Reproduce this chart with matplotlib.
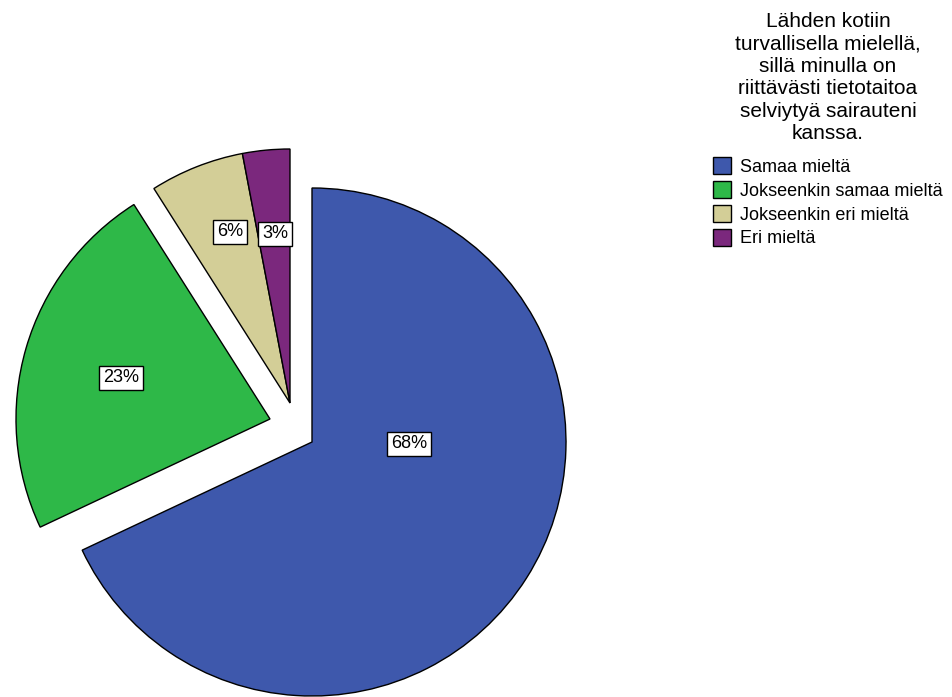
import matplotlib.pyplot as plt

# answer categories and their shares (%)
categories = ['Samaa mieltä', 'Jokseenkin samaa mieltä', 'Jokseenkin eri mieltä', 'Eri mieltä']
shares = [68, 23, 6, 3]
question = ('Lähden kotiin\nturvallisella mielellä,\nsillä minulla on\n'
            'riittävästi tietotaitoa\nselviytyä sairauteni\nkanssa.')

colors = ['#3e58ac', '#2eb848', '#d3ce97', '#7b287d']

W, H = 953, 697
plt.rcParams['font.family'] = ['Liberation Sans', 'DejaVu Sans']

fig = plt.figure(figsize=(W / 100, H / 100), dpi=100)
ax = fig.add_axes([0, 0, 1, 1])  # axes in pixel units, y upwards

cx, cy = 312, H - 442
wedges, _ = ax.pie(shares, colors=colors, startangle=90, counterclock=False,
                   radius=254, center=(cx, cy),
                   wedgeprops=dict(edgecolor='black', linewidth=1))

# pull the smaller slices out of the pie
shifts = [(0, 0), (-42, 23), (-22, 39), (-22, 39)]
for w, (dx, dy) in zip(wedges, shifts):
    w.set_center((cx + dx, cy + dy))

# percentage labels in small white boxes
label_pos = [(409, 444), (121, 378), (230, 232), (275, 234)]
for v, (x, y) in zip(shares, label_pos):
    ax.text(x, H - y, f'{v}%', ha='center', va='center', fontsize=13,
            bbox=dict(boxstyle='square,pad=0.2', fc='white', ec='black', lw=1))

# legend title (the survey statement) above the colour keys
ax.text(828, H - 12, question, ha='center', va='top', fontsize=15,
        linespacing=1.23)
leg = ax.legend(wedges, categories, loc='upper left',
                bbox_to_anchor=(713 / W, 1 - 157 / H), frameon=False,
                fontsize=13, handlelength=1.0, handleheight=1.1,
                handletextpad=0.5, labelspacing=0.28, borderpad=0.0,
                borderaxespad=0.0)

ax.set_xlim(0, W)
ax.set_ylim(0, H)
ax.axis('off')

fig.savefig('out.png', dpi=100)
